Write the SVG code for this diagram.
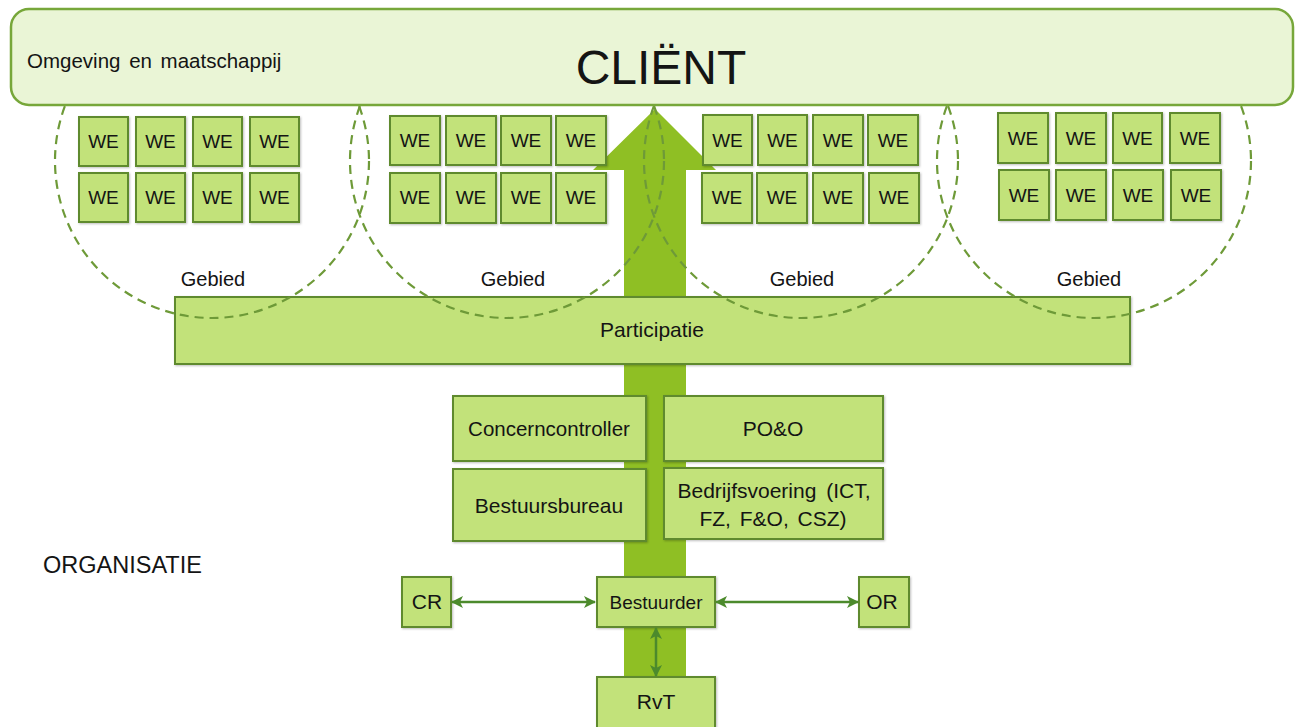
<svg xmlns="http://www.w3.org/2000/svg" width="1298" height="727" viewBox="0 0 1298 727">
<defs>
<style>
.t{font-family:"Liberation Sans",Arial,sans-serif;fill:#141414;text-anchor:middle}
.box{fill:#c2e27a;stroke:#5f8a2e;stroke-width:2}
.we{fill:#c2e27a;stroke:#5f8a2e;stroke-width:2}
.circ{fill:none;stroke:#6e9a38;stroke-width:2.2;stroke-dasharray:9 6}
.con{stroke:#4c8a2c;stroke-width:2.5;fill:none}
</style>
<clipPath id="below">
<rect x="0" y="104" width="1298" height="623"/>
</clipPath>
<marker id="ah" viewBox="0 0 12 12" refX="11" refY="6" markerWidth="12" markerHeight="12" markerUnits="userSpaceOnUse" orient="auto-start-reverse">
<path d="M0,0 L12,6 L0,12 L3,6 z" fill="#4c8a2c"/>
</marker>
<filter id="sh" x="-10%" y="-10%" width="130%" height="130%">
<feDropShadow dx="1" dy="1" stdDeviation="0.8" flood-color="#000" flood-opacity="0.25"/>
</filter>
</defs>

<g id="main-arrow">
<polygon points="655,109 716,170 686,170 686,700 624,700 624,170 593,170" fill="#8fbf24"/>
</g>

<g id="participatie">
<rect class="box" x="175" y="297" width="955" height="67" filter="url(#sh)"/>
<text class="t" x="652" y="337" font-size="21">Participatie</text>
</g>

<g id="concerncontroller">
<rect class="box" x="453" y="396" width="193" height="65" filter="url(#sh)"/>
<text class="t" x="549" y="436" font-size="20.5">Concerncontroller</text>
</g>
<g id="poeno">
<rect class="box" x="664" y="396" width="219" height="65" filter="url(#sh)"/>
<text class="t" x="773" y="436" font-size="21">PO&amp;O</text>
</g>
<g id="bestuursbureau">
<rect class="box" x="453" y="469" width="193" height="72" filter="url(#sh)"/>
<text class="t" x="549" y="513" font-size="21">Bestuursbureau</text>
</g>
<g id="bedrijfsvoering">
<rect class="box" x="664" y="468" width="219" height="71" filter="url(#sh)"/>
<text class="t" x="774" y="498" font-size="21" word-spacing="4">Bedrijfsvoering (ICT,</text>
<text class="t" x="773" y="526" font-size="21" word-spacing="3">FZ, F&amp;O, CSZ)</text>
</g>

<g id="cr">
<rect class="box" x="402" y="577" width="49" height="50" filter="url(#sh)"/>
<text class="t" x="427" y="609" font-size="21">CR</text>
</g>
<g id="bestuurder">
<rect class="box" x="597" y="577" width="118" height="50" filter="url(#sh)"/>
<text class="t" x="656" y="609" font-size="19">Bestuurder</text>
</g>
<g id="or">
<rect class="box" x="859" y="577" width="50" height="50" filter="url(#sh)"/>
<text class="t" x="882" y="609" font-size="21">OR</text>
</g>
<g id="rvt">
<rect class="box" x="597" y="677" width="118" height="60" filter="url(#sh)"/>
<text class="t" x="656" y="709" font-size="21">RvT</text>
</g>

<g id="connectors">
<line class="con" x1="452" y1="602" x2="595" y2="602" marker-start="url(#ah)" marker-end="url(#ah)"/>
<line class="con" x1="716" y1="602" x2="858" y2="602" marker-start="url(#ah)" marker-end="url(#ah)"/>
<line class="con" x1="656" y1="628" x2="656" y2="676" marker-start="url(#ah)" marker-end="url(#ah)"/>
</g>

<g id="we-gebied-1">
<rect class="we" x="79" y="117" width="49" height="49" filter="url(#sh)"/><text class="t" x="103.5" y="148" font-size="19">WE</text>
<rect class="we" x="136" y="117" width="49" height="49" filter="url(#sh)"/><text class="t" x="160.5" y="148" font-size="19">WE</text>
<rect class="we" x="193" y="117" width="49" height="49" filter="url(#sh)"/><text class="t" x="217.5" y="148" font-size="19">WE</text>
<rect class="we" x="250" y="117" width="49" height="49" filter="url(#sh)"/><text class="t" x="274.5" y="148" font-size="19">WE</text>
<rect class="we" x="79" y="173" width="49" height="49" filter="url(#sh)"/><text class="t" x="103.5" y="204" font-size="19">WE</text>
<rect class="we" x="136" y="173" width="49" height="49" filter="url(#sh)"/><text class="t" x="160.5" y="204" font-size="19">WE</text>
<rect class="we" x="193" y="173" width="49" height="49" filter="url(#sh)"/><text class="t" x="217.5" y="204" font-size="19">WE</text>
<rect class="we" x="250" y="173" width="49" height="49" filter="url(#sh)"/><text class="t" x="274.5" y="204" font-size="19">WE</text>
</g>
<g id="we-gebied-2">
<rect class="we" x="390" y="116" width="50" height="49" filter="url(#sh)"/><text class="t" x="415" y="147" font-size="19">WE</text>
<rect class="we" x="446" y="116" width="50" height="49" filter="url(#sh)"/><text class="t" x="471" y="147" font-size="19">WE</text>
<rect class="we" x="501" y="116" width="50" height="49" filter="url(#sh)"/><text class="t" x="526" y="147" font-size="19">WE</text>
<rect class="we" x="556" y="116" width="50" height="49" filter="url(#sh)"/><text class="t" x="581" y="147" font-size="19">WE</text>
<rect class="we" x="390" y="173" width="50" height="50" filter="url(#sh)"/><text class="t" x="415" y="204" font-size="19">WE</text>
<rect class="we" x="446" y="173" width="50" height="50" filter="url(#sh)"/><text class="t" x="471" y="204" font-size="19">WE</text>
<rect class="we" x="501" y="173" width="50" height="50" filter="url(#sh)"/><text class="t" x="526" y="204" font-size="19">WE</text>
<rect class="we" x="556" y="173" width="50" height="50" filter="url(#sh)"/><text class="t" x="581" y="204" font-size="19">WE</text>
</g>
<g id="we-gebied-3">
<rect class="we" x="703" y="115" width="49" height="50" filter="url(#sh)"/><text class="t" x="727.5" y="147" font-size="19">WE</text>
<rect class="we" x="758" y="115" width="49" height="50" filter="url(#sh)"/><text class="t" x="782.5" y="147" font-size="19">WE</text>
<rect class="we" x="813" y="115" width="50" height="50" filter="url(#sh)"/><text class="t" x="838" y="147" font-size="19">WE</text>
<rect class="we" x="868" y="115" width="50" height="50" filter="url(#sh)"/><text class="t" x="893" y="147" font-size="19">WE</text>
<rect class="we" x="702" y="173" width="50" height="50" filter="url(#sh)"/><text class="t" x="727" y="204" font-size="19">WE</text>
<rect class="we" x="757" y="173" width="50" height="50" filter="url(#sh)"/><text class="t" x="782" y="204" font-size="19">WE</text>
<rect class="we" x="813" y="173" width="50" height="50" filter="url(#sh)"/><text class="t" x="838" y="204" font-size="19">WE</text>
<rect class="we" x="869" y="173" width="50" height="50" filter="url(#sh)"/><text class="t" x="894" y="204" font-size="19">WE</text>
</g>
<g id="we-gebied-4">
<rect class="we" x="998" y="113" width="50" height="50" filter="url(#sh)"/><text class="t" x="1023" y="145" font-size="19">WE</text>
<rect class="we" x="1056" y="113" width="50" height="50" filter="url(#sh)"/><text class="t" x="1081" y="145" font-size="19">WE</text>
<rect class="we" x="1113" y="113" width="49" height="50" filter="url(#sh)"/><text class="t" x="1137.5" y="145" font-size="19">WE</text>
<rect class="we" x="1170" y="113" width="50" height="50" filter="url(#sh)"/><text class="t" x="1195" y="145" font-size="19">WE</text>
<rect class="we" x="999" y="170" width="50" height="50" filter="url(#sh)"/><text class="t" x="1024" y="202" font-size="19">WE</text>
<rect class="we" x="1056" y="170" width="50" height="50" filter="url(#sh)"/><text class="t" x="1081" y="202" font-size="19">WE</text>
<rect class="we" x="1113" y="170" width="50" height="50" filter="url(#sh)"/><text class="t" x="1138" y="202" font-size="19">WE</text>
<rect class="we" x="1171" y="170" width="50" height="50" filter="url(#sh)"/><text class="t" x="1196" y="202" font-size="19">WE</text>
</g>

<g id="gebied-1"><circle class="circ" cx="212" cy="161" r="157" clip-path="url(#below)"/><text class="t" x="213" y="286" font-size="20">Gebied</text></g>
<g id="gebied-2"><circle class="circ" cx="507" cy="161" r="157" clip-path="url(#below)"/><text class="t" x="513" y="286" font-size="20">Gebied</text></g>
<g id="gebied-3"><circle class="circ" cx="801" cy="161" r="157" clip-path="url(#below)"/><text class="t" x="802" y="286" font-size="20">Gebied</text></g>
<g id="gebied-4"><circle class="circ" cx="1094" cy="161" r="157" clip-path="url(#below)"/><text class="t" x="1089" y="286" font-size="20">Gebied</text></g>

<g id="client">
<rect x="11" y="9" width="1282" height="96" rx="18" ry="18" fill="#eaf5d6" stroke="#77a73a" stroke-width="2.5"/>
<text class="t" x="27" y="68" font-size="20.5" style="text-anchor:start" word-spacing="3">Omgeving en maatschappij</text>
<text class="t" x="661" y="84" font-size="48">CLIËNT</text>
</g>

<g id="organisatie">
<text class="t" x="43" y="573" font-size="23.5" style="text-anchor:start">ORGANISATIE</text>
</g>
</svg>
